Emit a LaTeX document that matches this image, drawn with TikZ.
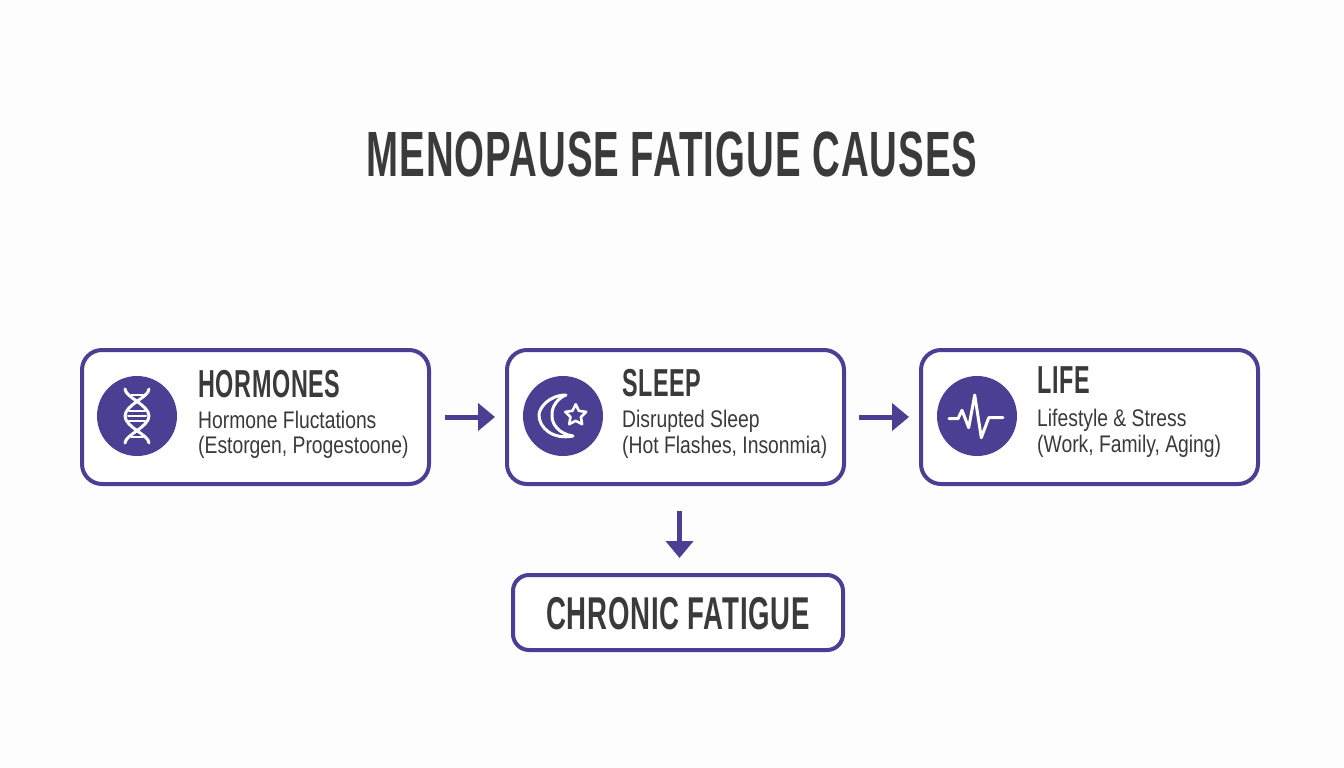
\documentclass[tikz,border=0pt]{standalone}
\usepackage{fontspec}
\usetikzlibrary{arrows.meta}
\setmainfont{Liberation Sans}
\newfontfamily\headfont[FakeStretch=0.60,LetterSpace=1.6]{Liberation Sans}
\newfontfamily\subfont[FakeStretch=0.805]{Liberation Sans}
\definecolor{pur}{HTML}{4A3F93}
\definecolor{ink}{HTML}{3A3A3A}
\definecolor{bg}{HTML}{FDFDFD}
\tikzset{
 cardbox/.style={draw=pur,line width=4pt,rounded corners=20pt,fill=white,minimum height=134pt,inner sep=0pt},
 disc/.style={circle,fill=pur,minimum size=80pt,inner sep=0pt},
 heading/.style={text=ink,anchor=base west,inner sep=0pt,font=\headfont\bfseries\fontsize{39}{39}\selectfont},
 sub/.style={text=ink,anchor=base west,inner sep=0pt,font=\subfont\fontsize{24}{24}\selectfont},
 flow/.style={draw=pur,line width=5pt,-{Triangle[length=17pt,width=27pt]}},
 glyph/.style={draw=white,line width=3pt,line cap=round,line join=round}
}
\begin{document}
\begin{tikzpicture}[x=1pt,y=-1pt]
\useasboundingbox (0,0) rectangle (1344,768);
\fill[bg] (0,0) rectangle (1344,768);
\node[text=ink,inner sep=0pt,anchor=base,font=\headfont\bfseries\fontsize{64}{64}\selectfont] (title) at (672,176) {MENOPAUSE FATIGUE CAUSES};
\node[cardbox,minimum width=347pt] (h) at (255.5,417) {};
\node[cardbox,minimum width=337pt] (s) at (675.5,417) {};
\node[cardbox,minimum width=337pt] (l) at (1089.5,417) {};
\node[cardbox,minimum width=330pt,minimum height=75pt,rounded corners=16pt] (c) at (678,612.5) {};
\node[disc] (hd) at (137,416) {};
\node[disc] (sd) at (563,416) {};
\node[disc] (ld) at (977,416) {};
\node[heading] (ht) at (198,397) {HORMONES};
\node[sub] (h1) at (198,428) {Hormone Fluctations};
\node[sub] (h2) at (198,453) {(Estorgen, Progestoone)};
\node[heading] (st) at (622,396) {SLEEP};
\node[sub] (s1) at (622,427) {Disrupted Sleep};
\node[sub] (s2) at (622,453) {(Hot Flashes, Insonmia)};
\node[heading] (lt) at (1037,393) {LIFE};
\node[sub] (l1) at (1037,426) {Lifestyle \& Stress};
\node[sub] (l2) at (1037,452) {(Work, Family, Aging)};
\node[text=ink,inner sep=0pt,anchor=base,font=\headfont\bfseries\fontsize{46}{46}\selectfont] (ct) at (678,629) {CHRONIC FATIGUE};
\draw[flow,shorten <=14pt,shorten >=10pt] (h) -- (s);
\draw[flow,shorten <=13pt,shorten >=10pt] (s) -- (l);
\draw[flow,shorten <=25pt,shorten >=15pt] ([xshift=4pt]s.south) -- ([xshift=1.5pt]c.north);
\begin{scope}[shift={(137,416)}]
\draw[glyph] (-12,-27) .. controls (-12,-19) and (12,-11) .. (12,0) .. controls (12,11) and (-12,19) .. (-12,27);
\draw[glyph] (12,-27) .. controls (12,-19) and (-12,-11) .. (-12,0) .. controls (-12,11) and (12,19) .. (12,27);
\foreach \yy/\ww in {-21/6,-5/8,0/9,5/8,21/6}{\draw[glyph,line width=2pt] (-\ww,\yy) -- (\ww,\yy);}
\end{scope}
\begin{scope}[shift={(563,416)}]
\draw[glyph] (3,-21) .. controls (-14,-21) and (-24,-8) .. (-24,-1) .. controls (-24,12) and (-10,24) .. (10,20) .. controls (-4,18) and (-12,8) .. (-11,-2) .. controls (-11,-10) and (-5,-18) .. (3,-21) -- cycle;
\begin{scope}[shift={(12.7,-0.7)}]
\draw[glyph,line width=2.6pt] (-90:11) -- (-54:5.5) -- (-18:11) -- (18:5.5) -- (54:11) -- (90:5.5) -- (126:11) -- (162:5.5) -- (198:11) -- (234:5.5) -- cycle;
\end{scope}
\end{scope}
\begin{scope}[shift={(977,416)}]
\draw[glyph] (-28,2.7) -- (-19,2.7) -- (-15,-5.7) -- (-8.3,11.7) -- (-2.3,-21) -- (4.3,21.7) -- (11.7,1.7) -- (26,1.7);
\end{scope}
\end{tikzpicture}
\end{document}
